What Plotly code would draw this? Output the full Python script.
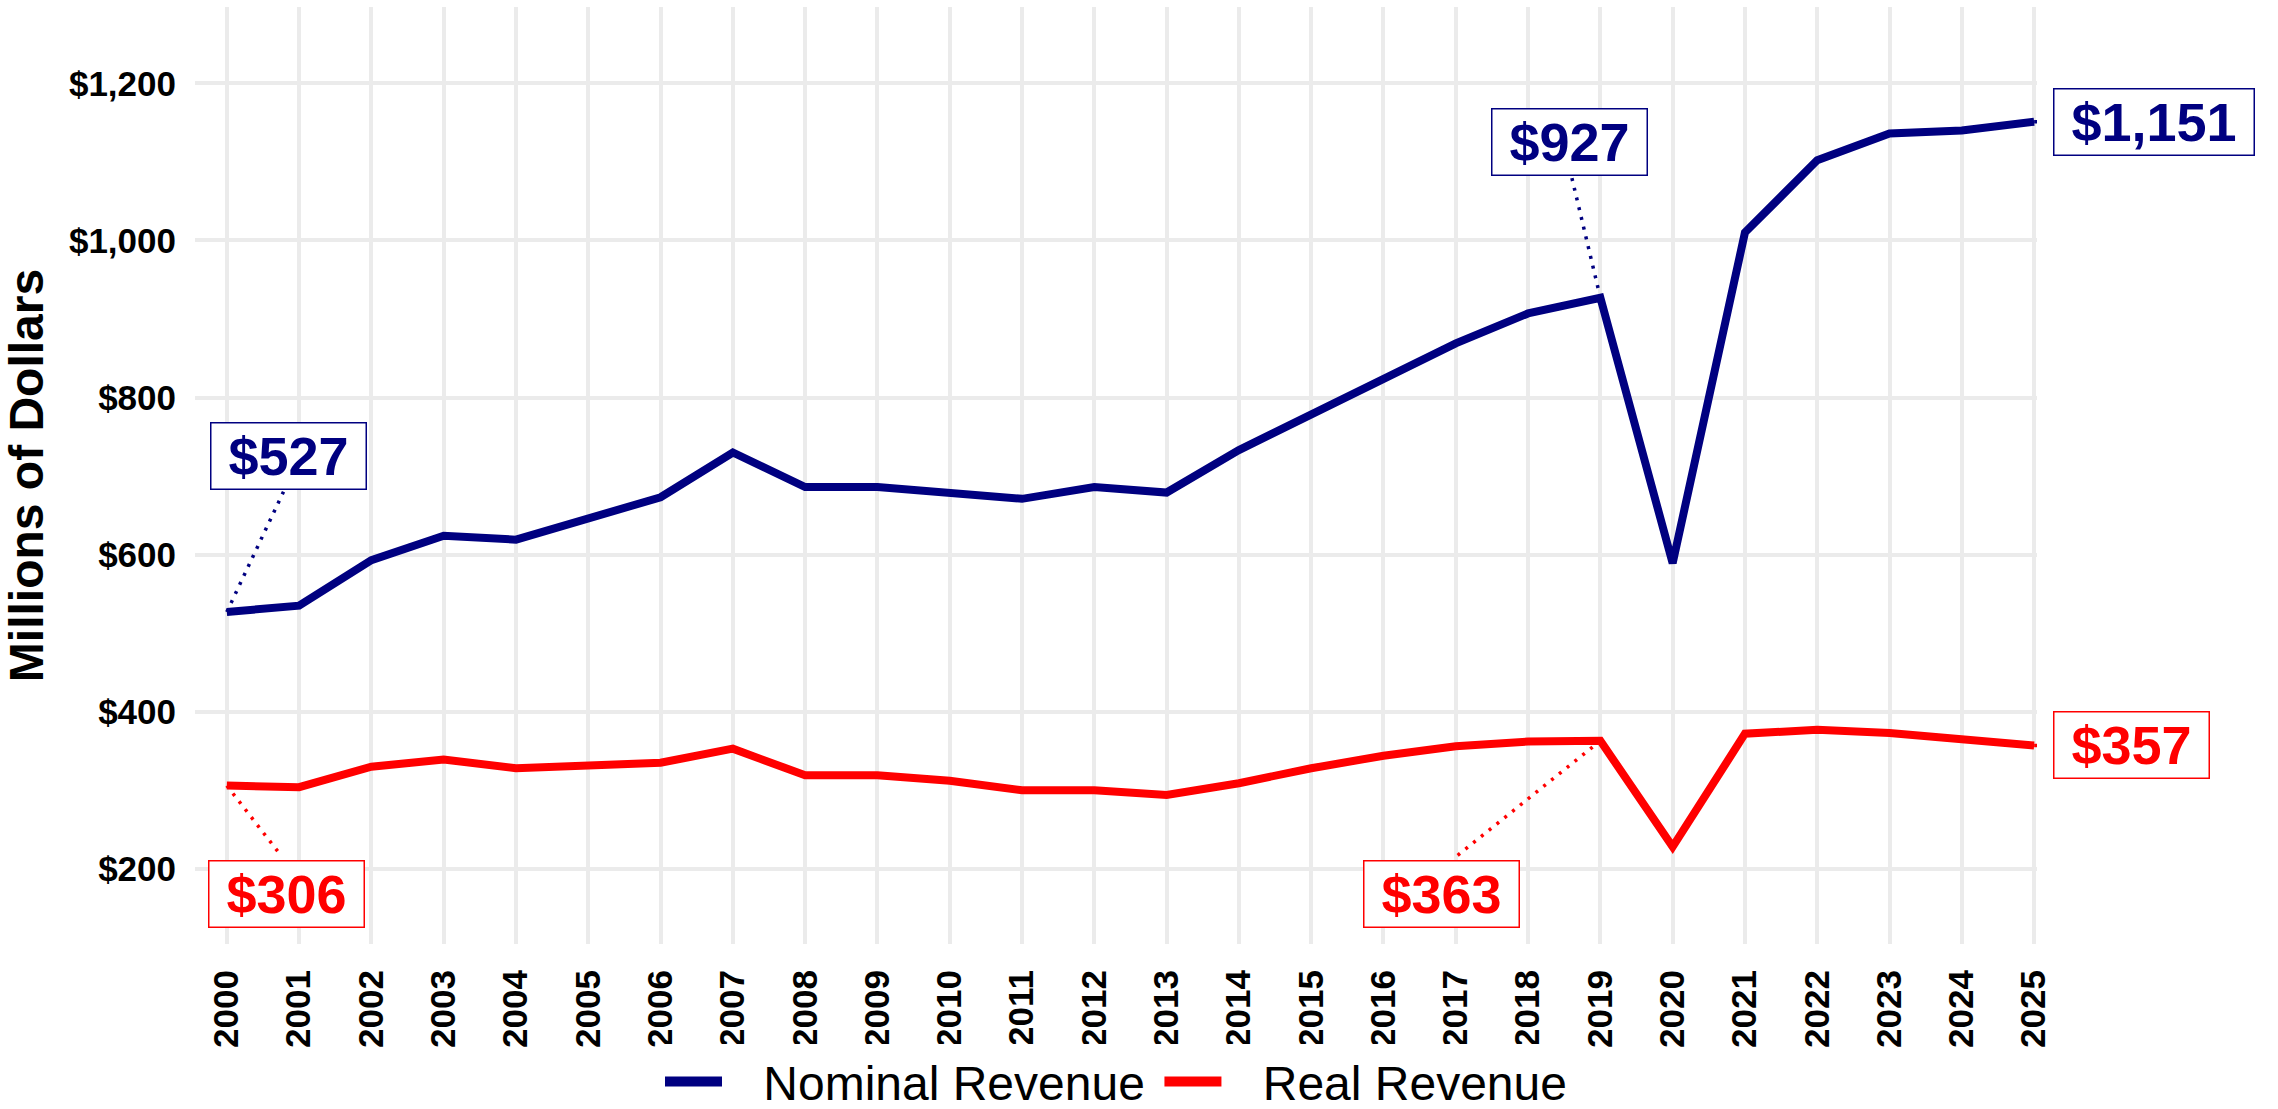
import plotly.graph_objects as go

years = list(range(2000, 2026))
nominal = [527, 535, 593, 624, 619, 646, 673, 730, 686, 686, 679, 671, 686, 679,
           733, 778, 822, 869, 907, 927, 589, 1010, 1102, 1136, 1140, 1151]
real = [306, 304, 330, 339, 328, 331, 335, 353, 319, 319, 312, 300, 300, 294,
        309, 328, 344, 356, 362, 363, 228, 372, 377, 373, 364, 357]
y_ticks = [200, 400, 600, 800, 1000, 1200]

NAVY = "#000080"
RED = "#FF0000"
FONT = "Liberation Sans"
NB = "\u00a0"
TS = "\u2009"

fig = go.Figure()
fig.add_trace(go.Scatter(x=years, y=nominal, mode="lines", name="Nominal Revenue",
                         line=dict(color=NAVY, width=8), cliponaxis=False, showlegend=False))
fig.add_trace(go.Scatter(x=years, y=real, mode="lines", name="Real Revenue",
                         line=dict(color=RED, width=8), cliponaxis=False, showlegend=False))
# legend entries
fig.add_trace(go.Scatter(x=[None], y=[None], mode="lines",
                         name=NB * 2 + TS + "Nominal Revenue" + TS,
                         line=dict(color=NAVY, width=10)))
fig.add_trace(go.Scatter(x=[None], y=[None], mode="lines",
                         name=NB * 2 + TS + "Real Revenue",
                         line=dict(color=RED, width=10)))

# label placement: (series, colour, index, box center offset px, leader end offset px)
labels = [
    (nominal, NAVY, 0, (62, 156), (58, 123)),
    (real, RED, 0, (60, -108), (55, -71)),
    (nominal, NAVY, 19, (-31, 156), (-29, 122)),
    (real, RED, 19, (-159, -153), (-147, -118)),
    (nominal, NAVY, 25, (120, 0), (19, 0)),
    (real, RED, 25, (97, 0), (19, 0)),
]

def text_em(s):
    return sum(0.278 if c == "," else 0.556 for c in s)

for series, col, i, (sx, sy), (lx, ly) in labels:
    v = series[i]
    txt = f"${v:,.0f}"
    fig.add_shape(type="line", xref="x", yref="y", xsizemode="pixel", ysizemode="pixel",
                  xanchor=years[i], yanchor=v, x0=0, y0=0, x1=lx, y1=ly,
                  line=dict(color=col, width=3.5, dash="3px,7px"), layer="above")
    fig.add_annotation(x=years[i], y=v, xref="x", yref="y", text=txt, showarrow=False,
                       xshift=sx, yshift=sy, xanchor="center", yanchor="middle",
                       font=dict(family=FONT, size=54, color=col, weight="bold"),
                       bgcolor="white", bordercolor=col, borderwidth=1.5, borderpad=0,
                       width=text_em(txt) * 54 + 34, height=65)

fig.update_layout(
    width=2278, height=1109,
    margin=dict(l=195, r=241, t=7, b=165, autoexpand=False),
    plot_bgcolor="white", paper_bgcolor="white",
    font=dict(family=FONT, color="black"),
    showlegend=True,
    legend=dict(orientation="h", x=0.5, xanchor="center", y=-0.147, yanchor="middle",
                font=dict(family=FONT, size=48, color="black"), itemwidth=57,
                tracegroupgap=0, borderwidth=0),
)
fig.update_xaxes(range=[1999.56, 2025.04], tickvals=years, ticktext=[str(y) for y in years],
                 tickangle=-90, showgrid=True, gridcolor="#EBEBEB", gridwidth=3.5,
                 zeroline=False, showline=False, ticks="", ticklabelstandoff=18,
                 automargin=False,
                 tickfont=dict(family=FONT, size=35, color="black", weight="bold"))
fig.update_yaxes(range=[104.3, 1297.1], tickvals=y_ticks,
                 ticktext=[f"${t:,}" for t in y_ticks],
                 showgrid=True, gridcolor="#EBEBEB", gridwidth=3.5,
                 zeroline=False, showline=False, ticks="", ticklabelstandoff=18,
                 automargin=False,
                 tickfont=dict(family=FONT, size=35, color="black", weight="bold"),
                 title=dict(text="Millions of Dollars", standoff=16,
                            font=dict(family=FONT, size=48, color="black", weight="bold")))

fig.write_html("out.html", config={"displayModeBar": False},
               post_script="document.body.style.margin='0px';")
